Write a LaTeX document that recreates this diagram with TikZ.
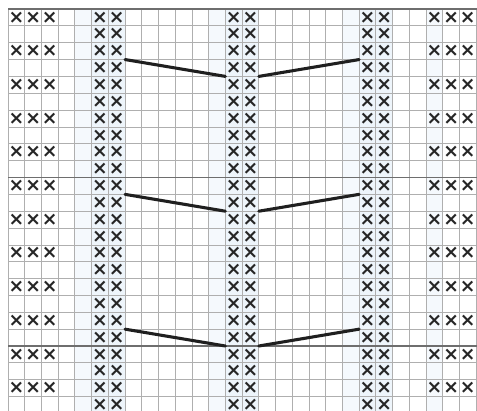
\documentclass[tikz,border=0pt]{standalone}
\usepackage{fontspec}
\newfontfamily\crossfont{DejaVu Sans}
\definecolor{tintA}{RGB}{238,245,251}
\definecolor{tintB}{RGB}{245,249,253}
\definecolor{gridgray}{RGB}{175,175,175}
\definecolor{thickgray}{RGB}{110,110,110}
\tikzset{
  gridline/.style={draw=gridgray, line width=0.6pt},
  thickline/.style={draw=thickgray, line width=1.1pt},
  chevron/.style={draw=black!88, line width=2.3pt, line cap=round},
  xmark/.style={font=\crossfont\bfseries\fontsize{14}{14}\selectfont, inner sep=0pt, text=black!85},
}
\begin{document}
\begin{tikzpicture}[x=0.75pt,y=-0.75pt]
\path[use as bounding box, fill=white] (0,0) rectangle (477,410);
\clip (0,0) rectangle (477,410);
\begin{scope}[shift={(8,9)}, x=12.54pt, y=-12.6375pt]
  % tinted columns
  \foreach \c in {5,13,21} \fill[tintA] (\c,0) rectangle (\c+2,25);
  \foreach \c in {4,12,20,25} \fill[tintB] (\c,0) rectangle (\c+1,25);
  % grid
  \foreach \c in {0,...,28} \draw[gridline] (\c,0) -- (\c,25);
  \foreach \r in {0,...,25} \draw[gridline] (0,\r) -- (28,\r);
  \foreach \r in {0,10,20} \draw[thickline] (0,\r) -- (28.5,\r);
  % crosses
  \foreach \r in {0,...,23} {
    \foreach \c in {5,6,13,14,21,22}
      \node[xmark] (xx-\c-\r) at (\c+0.5,\r+0.5) {×};
  }
  \foreach \r in {0,2,...,22} {
    \foreach \c in {0,1,2,25,26,27}
      \node[xmark] (xxx-\c-\r) at (\c+0.5,\r+0.5) {×};
  }
  % chevrons
  \foreach \r [evaluate=\r as \s using int(\r+1)] in {3,11,19} {
    \coordinate (L\r) at (7,\r);
    \coordinate (CL\r) at (13,\s);
    \coordinate (CR\r) at (15,\s);
    \coordinate (R\r) at (21,\r);
    \draw[chevron] (L\r) -- (CL\r);
    \draw[chevron] (CR\r) -- (R\r);
  }
\end{scope}
\end{tikzpicture}
\end{document}
